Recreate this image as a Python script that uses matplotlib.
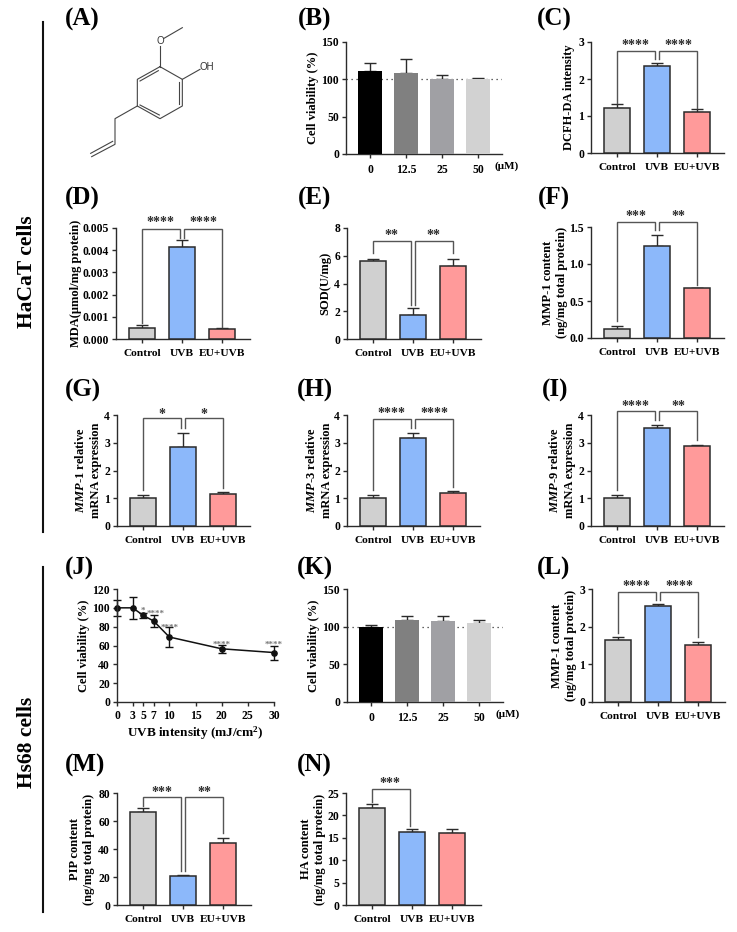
import matplotlib
matplotlib.use('Agg')
import matplotlib.pyplot as plt

plt.rcParams['font.family'] = ['Liberation Serif', 'DejaVu Serif']
plt.rcParams['font.weight'] = 'bold'
plt.rcParams['axes.labelweight'] = 'bold'
plt.rcParams['mathtext.fontset'] = 'custom'
plt.rcParams['mathtext.rm'] = 'Liberation Serif:bold'
plt.rcParams['mathtext.it'] = 'Liberation Serif:italic:bold'
plt.rcParams['mathtext.bf'] = 'Liberation Serif:bold'

W, H = 737, 932
DARK = '#2b2b2b'
LINE = '#555555'

# --- data ---
groups = ['Control', 'UVB', 'EU+UVB']
doses = ['0', '12.5', '25', '50']
dose_colors = ['#000000', '#808080', '#a0a0a4', '#d2d2d2']
group_colors = ['#d0d0d0', '#8cb8fa', '#ff9a9a']

b_means = [111, 108.5, 100.8, 100.8]
b_errs = [11, 18.5, 4.5, 1.6]
c_means = [1.22, 2.36, 1.11]
c_errs = [0.11, 0.08, 0.09]
d_means = [0.0005, 0.00415, 0.00047]
d_errs = [0.00012, 0.0003, 0.00002]
e_means = [5.6, 1.7, 5.23]
e_errs = [0.16, 0.57, 0.53]
f_means = [0.12, 1.25, 0.67]
f_errs = [0.04, 0.14, 0.005]
g_means = [1.0, 2.83, 1.15]
g_errs = [0.12, 0.53, 0.07]
h_means = [1.0, 3.17, 1.2]
h_errs = [0.12, 0.17, 0.07]
i_means = [1.0, 3.52, 2.87]
i_errs = [0.12, 0.13, 0.06]
k_means = [100, 108.5, 107.7, 104.6]
k_errs = [2.4, 5, 5.8, 4.9]
l_means = [1.65, 2.56, 1.52]
l_errs = [0.07, 0.04, 0.08]
m_means = [66.5, 20.7, 44.3]
m_errs = [2.8, 0.5, 3.7]
n_means = [21.7, 16.2, 16.1]
n_errs = [0.8, 0.7, 0.9]

j_uvb = [0, 3, 5, 7, 10, 20, 30]
j_viability = [100, 100, 92, 86, 69, 56.5, 52.5]
j_errs = [8.7, 11.4, 2.5, 6, 10.5, 4, 7.5]
j_xticks = [0, 3, 5, 7, 10, 15, 20, 25, 30]
j_stars = [(4.9, 99, '*'), (7.3, 95.5, '****'), (10, 81.5, '****'),
           (20, 63.5, '****'), (30, 63.5, '****')]

fig = plt.figure(figsize=(W / 100, H / 100), dpi=100)

# overlay in pixel units, for the side rules, the panel letters and the molecule
over = fig.add_axes([0, 0, 1, 1])
over.set_xlim(0, W)
over.set_ylim(H, 0)
over.axis('off')


def make_axes(l, r, t, b):
    ax = fig.add_axes([l / W, 1 - b / H, (r - l) / W, (b - t) / H])
    ax.patch.set_alpha(0)
    for s in ['top', 'right']:
        ax.spines[s].set_visible(False)
    for s in ['left', 'bottom']:
        ax.spines[s].set_linewidth(1.0)
        ax.spines[s].set_color(DARK)
    ax.tick_params(length=3, width=1.0, color=DARK, labelsize=8.4, pad=2)
    return ax


def bar_panel(box, cats, means, errs, colors, top, yticks, ylabel, offset,
              fmt='{:g}', spacing=40.0, brackets=(), unit=None):
    l, r, t, b = box
    ax = make_axes(l, r, t, b)
    width = 26.0 / spacing if len(cats) == 3 else 24.0 / spacing
    x = list(range(len(cats)))
    first = 26.0 if len(cats) == 3 else 24.0
    ax.set_xlim(-first / spacing, -first / spacing + (r - l) / spacing)
    ax.set_ylim(0, top)
    if len(cats) == 3:
        ax.bar(x, means, width=width, color=colors, edgecolor=DARK, linewidth=1.1, zorder=3)
    else:
        ax.bar(x, means, width=width, color=colors, zorder=3)
        ax.axhline(100, color='#333333', ls=(0, (1, 3)), lw=0.9, zorder=1)
    ax.errorbar(x, means, yerr=[[0] * len(x), errs], fmt='none', ecolor=DARK,
                elinewidth=1.0, capsize=4.3, capthick=1.0, zorder=2)
    ax.set_xticks(x)
    ax.set_xticklabels(cats, fontsize=8.2 if len(cats) == 3 else 8.4)
    ax.tick_params(axis='x', pad=4)
    ax.set_yticks(yticks)
    ax.set_yticklabels([fmt.format(v) for v in yticks])
    ax.set_ylabel(ylabel, fontsize=9, linespacing=1.3, va='center')
    ax.yaxis.set_label_coords(-offset / (r - l), 0.5)
    for x0, x1, y, y0, y1, label, sx, sy in brackets:
        ax.plot([x0, x0, x1, x1], [y0, y, y, y1], color=LINE, lw=1.0,
                solid_joinstyle='miter', clip_on=False, zorder=4)
        ax.annotate(label, (sx, sy), xytext=(0, -4.5), textcoords='offset points',
                    ha='center', va='baseline', fontsize=10, color=DARK,
                    annotation_clip=False)
    if unit:
        over.text(l + 161, b + 12, unit, fontsize=8, ha='center', va='center')
    return ax


# B
bar_panel((346, 502, 42, 154), doses, b_means, b_errs, dose_colors, 150, [0, 50, 100, 150],
          'Cell viability (%)', 33, spacing=36.0, unit='(μM)')
# C
bar_panel((591, 724, 42, 153), groups, c_means, c_errs, group_colors, 3, [0, 1, 2, 3],
          'DCFH-DA intensity', 22,
          brackets=[(0, 0.94, 2.77, 1.34, 2.54, '****', 0.47, 2.98),
                    (1.06, 2, 2.77, 2.54, 1.22, '****', 1.54, 2.98)])
# D
bar_panel((116, 250, 228, 339), groups, d_means, d_errs, group_colors, 0.005,
          [0, 0.001, 0.002, 0.003, 0.004, 0.005], 'MDA(μmol/mg protein)', 40, fmt='{:.3f}',
          brackets=[(0, 0.94, 0.00497, 0.0007, 0.00456, '****', 0.47, 0.00535),
                    (1.06, 2, 0.00497, 0.00456, 0.00054, '****', 1.53, 0.00535)])
# E
bar_panel((347, 481, 228, 339), groups, e_means, e_errs, group_colors, 8, [0, 2, 4, 6, 8],
          'SOD(U/mg)', 22,
          brackets=[(0, 0.94, 7.08, 6.17, 2.43, '**', 0.46, 7.66),
                    (1.06, 2, 7.08, 2.43, 6.17, '**', 1.52, 7.66)])
# F
bar_panel((591, 724, 227, 338), groups, f_means, f_errs, group_colors, 1.5, [0, 0.5, 1.0, 1.5],
          'MMP-1 content\n(ng/mg total protein)', 36, fmt='{:.1f}',
          brackets=[(0, 0.94, 1.567, 0.225, 1.455, '***', 0.47, 1.675),
                    (1.06, 2, 1.567, 1.455, 0.72, '**', 1.53, 1.675)])
# G
bar_panel((117, 250, 415, 526), groups, g_means, g_errs, group_colors, 4, [0, 1, 2, 3, 4],
          '$\\mathit{MMP}$-$\\mathit{1}$ relative\nmRNA expression', 29,
          brackets=[(0, 0.94, 3.88, 1.3, 3.52, '*', 0.475, 4.12),
                    (1.06, 2, 3.88, 3.52, 1.38, '*', 1.53, 4.12)])
# H
bar_panel((347, 480, 415, 526), groups, h_means, h_errs, group_colors, 4, [0, 1, 2, 3, 4],
          '$\\mathit{MMP}$-$\\mathit{3}$ relative\nmRNA expression', 28,
          brackets=[(0, 0.94, 3.87, 1.3, 3.52, '****', 0.47, 4.14),
                    (1.06, 2, 3.87, 3.52, 1.42, '****', 1.53, 4.14)])
# I
bar_panel((591, 724, 415, 526), groups, i_means, i_errs, group_colors, 4, [0, 1, 2, 3, 4],
          '$\\mathit{MMP}$-$\\mathit{9}$ relative\nmRNA expression', 29,
          brackets=[(0, 0.94, 4.13, 1.28, 3.81, '****', 0.47, 4.41),
                    (1.06, 2, 4.13, 3.81, 3.09, '**', 1.53, 4.41)])

# J
ax_j = make_axes(117, 274, 589, 702)
ax_j.errorbar(j_uvb, j_viability, yerr=j_errs, color='#111111', lw=1.1, marker='o', ms=3.8,
              elinewidth=1.0, capsize=3.2, capthick=1.0, clip_on=False)
ax_j.set_xlim(0, 30)
ax_j.set_ylim(0, 120)
ax_j.set_xticks(j_xticks)
ax_j.set_yticks(range(0, 121, 20))
ax_j.tick_params(axis='x', pad=3)
ax_j.set_ylabel('Cell viability (%)', fontsize=9, va='center')
ax_j.yaxis.set_label_coords(-33 / 157, 0.5)
ax_j.set_xlabel('UVB intensity (mJ/cm$^{\\mathbf{2}}$)', fontsize=9.5, labelpad=1.5)
for sx, sy, label in j_stars:
    ax_j.annotate(label, (sx, sy), xytext=(0, -3), textcoords='offset points',
                  ha='center', va='baseline', fontsize=6.5, color='#777777')

# K
bar_panel((347, 503, 589, 702), doses, k_means, k_errs, dose_colors, 150, [0, 50, 100, 150],
          'Cell viability (%)', 33, spacing=36.0, unit='(μM)')
# L
bar_panel((592, 725, 589, 702), groups, l_means, l_errs, group_colors, 3, [0, 1, 2, 3],
          'MMP-1 content\n(ng/mg total protein)', 28,
          brackets=[(0, 0.94, 2.93, 1.83, 2.72, '****', 0.47, 3.13),
                    (1.06, 2, 2.93, 2.72, 1.72, '****', 1.54, 3.13)])
# M
bar_panel((117, 251, 793, 905), groups, m_means, m_errs, group_colors, 80, [0, 20, 40, 60, 80],
          'PIP content\n(ng/mg total protein)', 35,
          brackets=[(0, 0.96, 76.9, 71, 24, '***', 0.475, 82.6),
                    (1.06, 2, 76.9, 24, 51.4, '**', 1.53, 82.6)])
# N
bar_panel((346, 481, 793, 905), groups, n_means, n_errs, group_colors, 25, [0, 5, 10, 15, 20, 25],
          'HA content\n(ng/mg total protein)', 33,
          brackets=[(0, 0.96, 26, 23.1, 17.7, '***', 0.46, 27.8)])

# side rules and cell line names
over.plot([43, 43], [22, 532], color='#111111', lw=1.5)
over.plot([43, 43], [567, 912], color='#111111', lw=1.5)
over.text(27, 272, 'HaCaT cells', rotation=90, fontsize=15.5, ha='center', va='center')
over.text(27, 742, 'Hs68 cells', rotation=90, fontsize=15.5, ha='center', va='center')

panel_letters = [('(A)', 65, 19), ('(B)', 298, 19), ('(C)', 537, 19),
                 ('(D)', 65, 198), ('(E)', 298, 198), ('(F)', 538, 198),
                 ('(G)', 65, 390), ('(H)', 297, 390), ('(I)', 542, 390),
                 ('(J)', 65, 568), ('(K)', 297, 568), ('(L)', 537, 568),
                 ('(M)', 65, 765), ('(N)', 297, 765)]
for label, px, py in panel_letters:
    over.text(px, py, label, fontsize=18, ha='left', va='center')

# eugenol skeleton, traced in 3x zoom pixels
skeleton = [
    [(480, 200), (547, 238), (547, 318), (480, 356), (412, 318), (412, 238), (480, 200)],
    [(420, 243), (475, 212)], [(537, 245), (537, 312)], [(420, 315), (478, 345)],
    [(480, 200), (480, 138)], [(492, 115), (547, 83)], [(547, 238), (600, 208)],
    [(412, 318), (345, 356), (345, 433), (275, 470)], [(338, 424), (272, 460)],
]
for seg in skeleton:
    over.plot([p[0] / 3 for p in seg], [p[1] / 3 for p in seg], color='#444444', lw=0.8)
over.text(160, 41, 'O', family='Liberation Sans', weight='normal', fontsize=7,
          ha='center', va='center', color='#333333')
over.text(207, 67, 'OH', family='Liberation Sans', weight='normal', fontsize=7,
          ha='center', va='center', color='#333333')

fig.savefig('out.png', dpi=100)
